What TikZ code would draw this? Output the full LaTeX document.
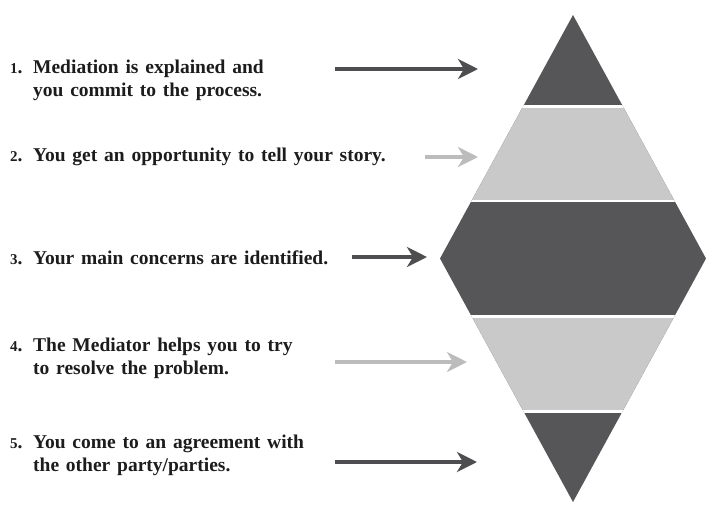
\documentclass[tikz,border=0pt]{standalone}
\usepackage{fontspec}
\setmainfont{Liberation Serif}
\usetikzlibrary{arrows.meta, positioning}
\definecolor{darkband}{RGB}{86,86,89}
\definecolor{lightband}{RGB}{201,201,201}
\definecolor{lightarrow}{RGB}{188,188,188}
\definecolor{darkarrow}{RGB}{78,78,80}
\definecolor{steptextcol}{RGB}{28,28,28}
\newcommand{\stepfont}{\bfseries\fontsize{19.5}{23}\selectfont\spaceskip=6.8pt plus 1pt\relax}
\newcommand{\stepno}[1]{\makebox[23pt][l]{{\fontsize{15}{15}\selectfont #1}.}}
\begin{document}
\begin{tikzpicture}[x=1pt, y=-1pt,
  steptext/.style = {anchor=west, align=left, inner sep=0pt, text=steptextcol, font=\stepfont},
  darkarr/.style  = {draw=darkarrow, line width=4pt, -{Stealth[length=20pt, width=20pt, inset=6pt]}},
  lightarr/.style = {draw=lightarrow, line width=4pt, -{Stealth[length=20pt, width=20pt, inset=6pt]}},
  gap/.style      = {draw=white, line width=2.6pt}]
  \useasboundingbox (0,0) rectangle (726,512);
  % diamond corners
  \coordinate (top)    at (573,15);
  \coordinate (right)  at (706,258.5);
  \coordinate (bottom) at (573,502);
  \coordinate (left)   at (440,258.5);
  \begin{scope}
    \clip (top) -- (right) -- (bottom) -- (left) -- cycle;
    \fill[darkband]  (430,10) rectangle (716,510);
    \fill[lightband] (430,106.5) rectangle (716,201);
    \fill[lightband] (430,316.5) rectangle (716,411.5);
    \draw[gap] (430,106.5) -- (716,106.5);
    \draw[gap] (430,201)   -- (716,201);
    \draw[gap] (430,316.5) -- (716,316.5);
    \draw[gap] (430,411.5) -- (716,411.5);
  \end{scope}
  % steps
  \node[steptext] (step1) at (10,80)  {\stepno{1}Mediation is explained and\\\phantom{\stepno{1}}you commit to the process.};
  \node[steptext] (step2) at (10,157) {\stepno{2}You get an opportunity to tell your story.};
  \node[steptext] (step3) at (10,258) {\stepno{3}Your main concerns are identified.};
  \node[steptext] (step4) at (10,358) {\stepno{4}The Mediator helps you to try\\\phantom{\stepno{4}}to resolve the problem.};
  \node[steptext] (step5) at (10,455) {\stepno{5}You come to an agreement with\\\phantom{\stepno{5}}the other party/parties.};
  % arrows
  \coordinate (a1s) at (335,69);  \coordinate (a1e) at (478,69);
  \coordinate (a2s) at (425,157); \coordinate (a2e) at (478,157);
  \coordinate (a3s) at (352,257); \coordinate (a3e) at (427,257);
  \coordinate (a4s) at (335,362); \coordinate (a4e) at (467,362);
  \coordinate (a5s) at (335,462); \coordinate (a5e) at (477,462);
  \draw[darkarr]  (a1s) -- (a1e);
  \draw[lightarr] (a2s) -- (a2e);
  \draw[darkarr]  (a3s) -- (a3e);
  \draw[lightarr] (a4s) -- (a4e);
  \draw[darkarr]  (a5s) -- (a5e);
\end{tikzpicture}
\end{document}
